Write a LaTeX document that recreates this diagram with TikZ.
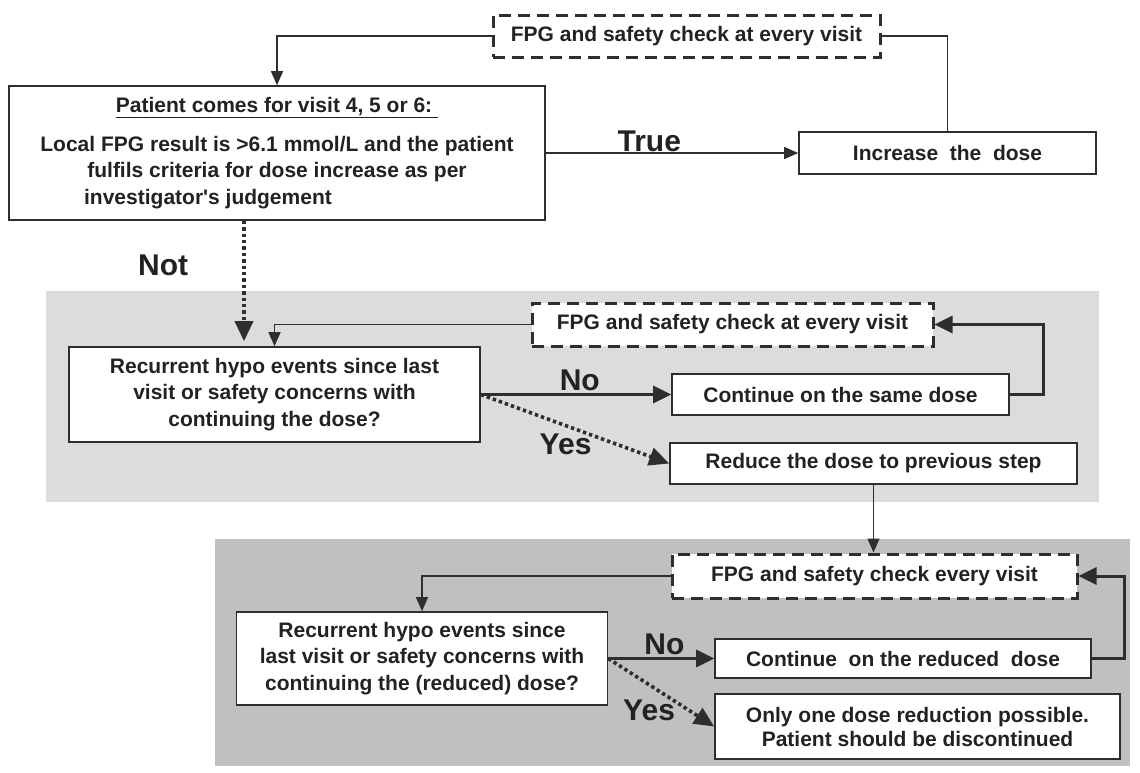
\documentclass[tikz,border=0pt]{standalone}
\usepackage{fontspec}
\setmainfont{Liberation Sans}
\usetikzlibrary{arrows.meta}
\definecolor{ink}{HTML}{222222}
\definecolor{edge}{HTML}{2E2E2E}
\definecolor{panelA}{HTML}{DCDCDC}
\definecolor{panelB}{HTML}{C0C0C0}
\newcommand{\boxfont}{\fontsize{21}{26.5}\selectfont\bfseries}
\newcommand{\labfont}{\fontsize{30}{30}\selectfont\bfseries}
\tikzset{
  stepbox/.style={draw=edge, line width=1.6pt, fill=white, text=ink, font=\boxfont, align=center, inner sep=0pt},
  checkbox/.style={stepbox, line width=3pt, dash pattern=on 12pt off 7pt},
  labelnode/.style={font=\labfont, text=ink, inner sep=0pt},
  thinline/.style={draw=edge, line width=1.2pt},
  thinarrow/.style={thinline, -{Triangle[length=14pt,width=12pt]}},
  thickarrow/.style={draw=edge, line width=3pt, -{Triangle[length=18pt,width=17pt]}},
  dotarrow/.style={draw=edge, line width=3.6pt, dash pattern=on 3.4pt off 3pt, -{Triangle[length=20pt,width=18pt]}}
}
\begin{document}
\begin{tikzpicture}[x=1pt,y=-1pt]
  \useasboundingbox (0,0) rectangle (1140,772);
  \fill[panelA] (46,291) rectangle (1099,502);
  \fill[panelB] (215,539) rectangle (1130,766);

  \node[checkbox, minimum width=387pt, minimum height=42pt] (Check) at (686.5,36) {FPG and safety check at every visit};
  \node[stepbox, minimum width=536pt, minimum height=134pt] (Patient) at (277,153)
    {\underline{Patient comes for visit 4, 5 or 6:\ }\\[12pt]
     Local FPG result is >6.1 mmol/L and the patient\\
     fulfils criteria for dose increase as per\\
     investigator\textquotesingle s judgement\hspace*{138pt}};
  \node[stepbox, minimum width=297pt, minimum height=42pt] (Increase) at (947.5,153) {Increase\ \ the\ \ dose};

  \node[checkbox, minimum width=401pt, minimum height=43pt] (CheckB) at (732.5,324.5) {FPG and safety check at every visit};
  \node[stepbox, minimum width=411pt, minimum height=95pt] (Recur) at (274.5,394.5)
    {Recurrent hypo events since last\\visit or safety concerns with\\continuing the dose?};
  \node[stepbox, minimum width=337pt, minimum height=41pt] (Same) at (840.5,394.5) {Continue on the same dose};
  \node[stepbox, minimum width=407pt, minimum height=41pt] (Reduce) at (873.5,463.5) {Reduce the dose to previous step};

  \node[checkbox, minimum width=405pt, minimum height=44pt] (CheckC) at (874.5,576) {FPG and safety check every visit};
  \node[stepbox, minimum width=371pt, minimum height=93pt] (RecurB) at (422,658.5)
    {Recurrent hypo events since\\last visit or safety concerns with\\continuing the (reduced) dose?};
  \node[stepbox, minimum width=376pt, minimum height=39pt] (Reduced) at (903,658.5) {Continue\ \ on the reduced\ \ dose};
  \node[stepbox, minimum width=405pt, minimum height=65pt, font=\fontsize{21}{24}\selectfont\bfseries] (Stop) at (917.5,726.5)
    {Only one dose reduction possible.\\Patient should be discontinued};

  \coordinate (NotX) at (244,0);

  \draw[thinarrow] (Check.west) -| (Patient.north);
  \draw[thinline] (Increase.north) |- (Check.east);
  \draw[thinarrow] (Patient.east) -- (Increase.west) node[labelnode, pos=0.41, above=1pt] (True) {True};
  \draw[dotarrow, shorten >=5pt] (Patient.south -| NotX) -- (Recur.north -| NotX) node[labelnode, pos=0.354, left=54pt] (Not) {Not};

  \draw[thinarrow] (CheckB.west) -| (Recur.north);
  \draw[thickarrow] (Recur.east) -- (Same.west) node[labelnode, pos=0.52, above=2pt] (NoA) {No};
  \draw[dotarrow] (Recur.east) -- (Reduce.west) node[labelnode, pos=0.45, below=7pt] (YesA) {Yes};
  \draw[thickarrow] (Same.east) -- ++(34,0) |- (CheckB.east);

  \draw[thinarrow] (Reduce.south) -- (Reduce.south |- CheckC.north);
  \draw[thinarrow] (CheckC.west) -| (RecurB.north);
  \draw[thickarrow] (RecurB.east) -- (Reduced.west) node[labelnode, pos=0.53, above=2pt] (NoB) {No};
  \draw[dotarrow] (RecurB.east) -- (Stop.west) node[labelnode, pos=0.385, below=13pt] (YesB) {Yes};
  \draw[thickarrow] (Reduced.east) -- ++(33,0) |- (CheckC.east);
\end{tikzpicture}
\end{document}
